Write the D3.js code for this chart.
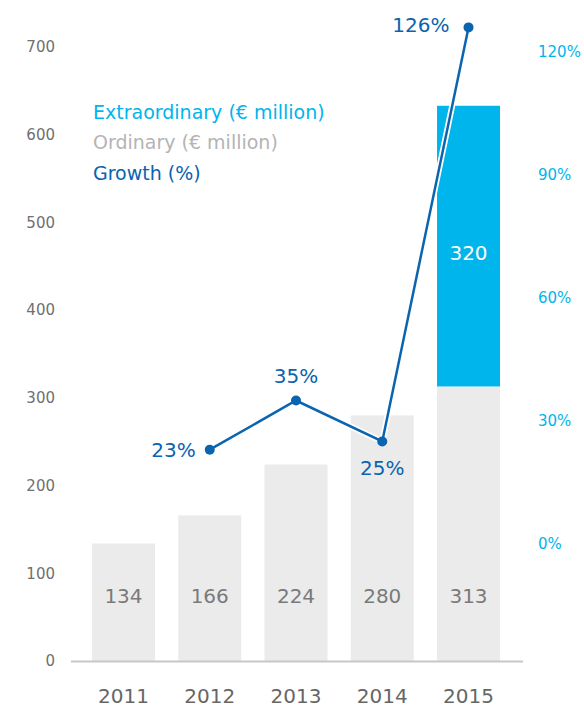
<!DOCTYPE html>
<html><head><meta charset="utf-8">
<script src="https://cdn.jsdelivr.net/npm/d3@7"></script>
<style>body{margin:0;background:#fff}svg{display:block;font-family:"DejaVu Sans",sans-serif}</style>
</head><body>
<svg id="c" width="584" height="708"></svg>
<script>
const years = ["2011","2012","2013","2014","2015"];
const ordinary = [134,166,224,280,313];
const extraordinary = [0,0,0,0,320];
const growthYears = ["2012","2013","2014","2015"];
const growth = [23,35,25,126];
const leftTicks = [0,100,200,300,400,500,600,700];
const rightTicks = [0,30,60,90,120];
const legendItems = ["Extraordinary (€ million)","Ordinary (€ million)","Growth (%)"];

const C_EXT="#00b4ec", C_ORD="#ebebeb", C_GROW="#0a64b0", C_ORDTXT="#b4b4b4";
const svg=d3.select("#c");
const x=d3.scaleBand().domain(years).range([70,522]).paddingInner(0.27).paddingOuter(0.255);
const y=d3.scaleLinear().domain([0,700]).range([661,47]);
const y2=d3.scaleLinear().domain([0,120]).range([544,52]);

// left axis
const la=svg.append("g").attr("transform","translate(55,0)").call(d3.axisLeft(y).tickValues(leftTicks).tickSize(0).tickPadding(0));
la.select(".domain").remove();
la.selectAll("text").attr("font-size",15).attr("fill","#707070").attr("font-family","DejaVu Sans");
// right axis
const ra=svg.append("g").attr("transform","translate(538,0)").call(d3.axisRight(y2).tickValues(rightTicks).tickFormat(d=>d+"%").tickSize(0).tickPadding(0));
ra.select(".domain").remove();
ra.selectAll("text").attr("font-size",15).attr("fill",C_EXT).attr("font-family","DejaVu Sans");

// bars
svg.append("g").selectAll("rect").data(years).join("rect")
 .attr("x",d=>x(d)).attr("width",x.bandwidth())
 .attr("y",(d,i)=>y(ordinary[i])).attr("height",(d,i)=>y(0)-y(ordinary[i])).attr("fill",C_ORD);
svg.append("g").selectAll("rect").data(years.filter((d,i)=>extraordinary[i]>0)).join("rect")
 .attr("x",d=>x(d)).attr("width",x.bandwidth())
 .attr("y",d=>{const i=years.indexOf(d);return y(ordinary[i]+extraordinary[i]);})
 .attr("height",d=>{const i=years.indexOf(d);return y(ordinary[i])-y(ordinary[i]+extraordinary[i]);})
 .attr("fill",C_EXT);
// bar labels
svg.append("g").selectAll("text").data(years).join("text")
 .attr("x",d=>x(d)+x.bandwidth()/2).attr("y",596).attr("dy","0.35em").attr("text-anchor","middle")
 .attr("font-size",20).attr("fill","#7a7a7a").text((d,i)=>ordinary[i]);
svg.append("g").selectAll("text").data(years.filter((d,i)=>extraordinary[i]>0)).join("text")
 .attr("x",d=>x(d)+x.bandwidth()/2)
 .attr("y",d=>{const i=years.indexOf(d);return y(ordinary[i]+extraordinary[i]/2)+7;})
 .attr("dy","0.35em").attr("text-anchor","middle").attr("font-size",20).attr("fill","#fff")
 .text(d=>extraordinary[years.indexOf(d)]);

// baseline
svg.append("line").attr("x1",71).attr("x2",523).attr("y1",661.5).attr("y2",661.5).attr("stroke","#c8c8c8").attr("stroke-width",2);
// x labels
svg.append("g").selectAll("text").data(years).join("text")
 .attr("x",d=>x(d)+x.bandwidth()/2).attr("y",696).attr("dy","0.35em").attr("text-anchor","middle")
 .attr("font-size",20).attr("fill","#666").text(d=>d);

// growth line
const line=d3.line().x(d=>x(d[0])+x.bandwidth()/2).y(d=>y2(d[1]));
const gd=growthYears.map((d,i)=>[d,growth[i]]);
svg.append("path").datum(gd).attr("d",line).attr("fill","none").attr("stroke","#fff").attr("stroke-width",6);
svg.append("path").datum(gd).attr("d",line).attr("fill","none").attr("stroke",C_GROW).attr("stroke-width",2.5);
svg.append("g").selectAll("circle").data(gd).join("circle")
 .attr("cx",d=>x(d[0])+x.bandwidth()/2).attr("cy",d=>y2(d[1])).attr("r",5).attr("fill",C_GROW);
const off={"2012":[-14,0,"end"],"2013":[0,-25,"middle"],"2014":[0,26,"middle"],"2015":[-19,-2,"end"]};
svg.append("g").selectAll("text").data(gd).join("text")
 .attr("x",d=>x(d[0])+x.bandwidth()/2+off[d[0]][0]).attr("y",d=>y2(d[1])+off[d[0]][1])
 .attr("dy","0.35em").attr("text-anchor",d=>off[d[0]][2]).attr("font-size",20).attr("fill",C_GROW)
 .text(d=>d[1]+"%");

// legend
const lc=[C_EXT,C_ORDTXT,C_GROW];
svg.append("g").selectAll("text").data(legendItems).join("text")
 .attr("x",93).attr("y",(d,i)=>112+i*30.5).attr("dy","0.35em").attr("font-size",19).attr("fill",(d,i)=>lc[i]).text(d=>d);
</script>
</body></html>
